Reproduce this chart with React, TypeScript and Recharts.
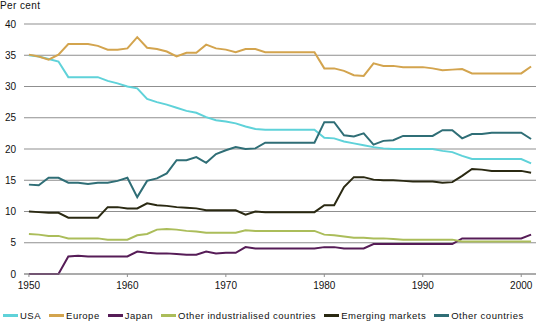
import React from "react";
import { LineChart, Line, XAxis, YAxis, CartesianGrid, Legend } from "recharts";

const years = [
  1950, 1951, 1952, 1953, 1954, 1955, 1956, 1957, 1958, 1959,
  1960, 1961, 1962, 1963, 1964, 1965, 1966, 1967, 1968, 1969,
  1970, 1971, 1972, 1973, 1974, 1975, 1976, 1977, 1978, 1979,
  1980, 1981, 1982, 1983, 1984, 1985, 1986, 1987, 1988, 1989,
  1990, 1991, 1992, 1993, 1994, 1995, 1996, 1997, 1998, 1999,
  2000, 2001,
];

const usa = [
  35.0, 34.8, 34.4, 34.0, 31.5, 31.5, 31.5, 31.5, 30.9, 30.5,
  30.0, 29.7, 28.0, 27.5, 27.1, 26.6, 26.1, 25.8, 25.1, 24.6,
  24.4, 24.1, 23.6, 23.2, 23.1, 23.1, 23.1, 23.1, 23.1, 23.1,
  21.8, 21.7, 21.2, 20.9, 20.6, 20.3, 20.1, 20.0, 20.0, 20.0,
  20.0, 20.0, 19.7, 19.5, 18.9, 18.4, 18.4, 18.4, 18.4, 18.4,
  18.4, 17.7,
];

const europe = [
  35.1, 34.8, 34.3, 35.1, 36.8, 36.8, 36.8, 36.5, 35.9, 35.9,
  36.1, 37.9, 36.2, 36.0, 35.6, 34.8, 35.4, 35.4, 36.7, 36.1,
  35.9, 35.5, 36.0, 36.0, 35.5, 35.5, 35.5, 35.5, 35.5, 35.5,
  32.9, 32.9, 32.5, 31.8, 31.7, 33.7, 33.3, 33.3, 33.1, 33.1,
  33.1, 32.9, 32.6, 32.7, 32.8, 32.1, 32.1, 32.1, 32.1, 32.1,
  32.1, 33.2,
];

const japan = [
  0, 0, 0, 0, 2.8, 2.9, 2.8, 2.8, 2.8, 2.8,
  2.8, 3.6, 3.4, 3.3, 3.3, 3.2, 3.1, 3.1, 3.6, 3.3,
  3.4, 3.4, 4.3, 4.1, 4.1, 4.1, 4.1, 4.1, 4.1, 4.1,
  4.3, 4.3, 4.1, 4.1, 4.1, 4.8, 4.8, 4.8, 4.8, 4.8,
  4.8, 4.8, 4.8, 4.8, 5.7, 5.7, 5.7, 5.7, 5.7, 5.7,
  5.7, 6.3,
];

const otherIndustrialised = [
  6.4, 6.3, 6.1, 6.1, 5.7, 5.7, 5.7, 5.7, 5.5, 5.5,
  5.5, 6.2, 6.4, 7.1, 7.2, 7.1, 6.9, 6.8, 6.6, 6.6,
  6.6, 6.6, 7.0, 6.9, 6.9, 6.9, 6.9, 6.9, 6.9, 6.9,
  6.3, 6.2, 6.0, 5.8, 5.8, 5.7, 5.7, 5.6, 5.5, 5.5,
  5.5, 5.5, 5.5, 5.5, 5.2, 5.2, 5.2, 5.2, 5.2, 5.2,
  5.2, 5.2,
];

const emerging = [
  10.0, 9.9, 9.8, 9.8, 9.0, 9.0, 9.0, 9.0, 10.7, 10.7,
  10.5, 10.5, 11.3, 11.0, 10.9, 10.7, 10.6, 10.5, 10.2, 10.2,
  10.2, 10.2, 9.5, 10.0, 9.9, 9.9, 9.9, 9.9, 9.9, 9.9,
  11.0, 11.0, 13.9, 15.5, 15.5, 15.1, 15.0, 15.0, 14.9, 14.8,
  14.8, 14.8, 14.6, 14.7, 15.7, 16.8, 16.7, 16.5, 16.5, 16.5,
  16.5, 16.2,
];

const otherCountries = [
  14.3, 14.2, 15.4, 15.4, 14.6, 14.6, 14.4, 14.6, 14.6, 14.9,
  15.4, 12.3, 14.9, 15.3, 16.1, 18.2, 18.2, 18.7, 17.8, 19.2,
  19.8, 20.3, 20.0, 20.1, 21.0, 21.0, 21.0, 21.0, 21.0, 21.0,
  24.3, 24.3, 22.2, 22.0, 22.5, 20.7, 21.3, 21.4, 22.1, 22.1,
  22.1, 22.1, 23.0, 23.0, 21.7, 22.4, 22.4, 22.6, 22.6, 22.6,
  22.6, 21.6,
];

const xTicks = [1950, 1960, 1970, 1980, 1990, 2000];
const yTicks = [0, 5, 10, 15, 20, 25, 30, 35, 40];

const series = [
  { key: "usa", name: "USA", values: usa, color: "#5fd2d9" },
  { key: "europe", name: "Europe", values: europe, color: "#d3a44e" },
  { key: "japan", name: "Japan", values: japan, color: "#561c57" },
  { key: "otherInd", name: "Other industrialised countries", values: otherIndustrialised, color: "#abbd5a" },
  { key: "emerging", name: "Emerging markets", values: emerging, color: "#2a2912" },
  { key: "otherCountries", name: "Other countries", values: otherCountries, color: "#2f6e76" },
];

const data = years.map((year, i) => {
  const row: Record<string, number> = { year };
  series.forEach((s) => {
    row[s.key] = s.values[i];
  });
  return row;
});

const FONT = "'Liberation Sans', Arial, sans-serif";

const LegendContent = () => (
  <div
    style={{
      display: "flex",
      alignItems: "center",
      height: 14,
      paddingLeft: 3,
      fontFamily: FONT,
      fontSize: 9.5,
      letterSpacing: 0.5,
      color: "#111",
      whiteSpace: "nowrap",
    }}
  >
    {series.map((s) => (
      <div key={s.key} style={{ display: "flex", alignItems: "center", marginRight: 8 }}>
        <div style={{ width: 15, height: 3, background: s.color, marginRight: 2 }} />
        <span>{s.name}</span>
      </div>
    ))}
  </div>
);

export default function App() {
  return (
    <div style={{ position: "absolute", left: 0, top: 0, width: 540, height: 324, background: "#fff" }}>
      <div
        style={{
          position: "absolute",
          left: 0,
          top: 1,
          fontFamily: FONT,
          fontSize: 10,
          lineHeight: "10px",
          letterSpacing: 0.4,
          color: "#111",
        }}
      >
        Per cent
      </div>
      <LineChart
        width={540}
        height={324}
        data={data}
        margin={{ top: 24, right: 4, left: 0, bottom: 2 }}
      >
        <CartesianGrid vertical={false} stroke="#8f8f8f" strokeWidth={1} />
        <XAxis
          dataKey="year"
          type="number"
          domain={[1949.5, 2001.5]}
          ticks={xTicks}
          height={34}
          axisLine={{ stroke: "#8f8f8f" }}
          tickLine={{ stroke: "#8f8f8f" }}
          tickSize={3}
          tickMargin={5}
          tick={{ fontFamily: FONT, fontSize: 10, fill: "#111" }}
          interval={0}
        />
        <YAxis
          domain={[0, 40]}
          ticks={yTicks}
          width={24}
          axisLine={false}
          tickLine={false}
          tick={{ fontFamily: FONT, fontSize: 10, fill: "#111" }}
          interval={0}
        />
        <Legend verticalAlign="bottom" align="left" content={<LegendContent />} wrapperStyle={{ left: 0 }} />
        {series.map((s) => (
          <Line
            key={s.key}
            type="linear"
            dataKey={s.key}
            name={s.name}
            stroke={s.color}
            strokeWidth={2}
            dot={false}
            isAnimationActive={false}
          />
        ))}
      </LineChart>
    </div>
  );
}
